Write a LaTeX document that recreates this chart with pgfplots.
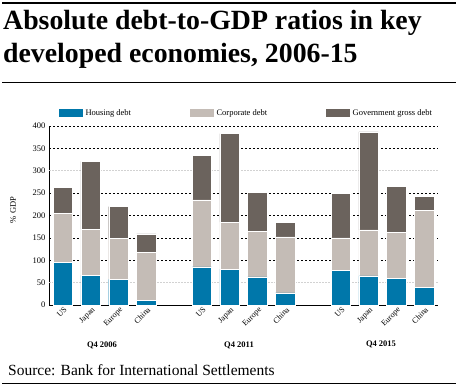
\documentclass[border=0pt]{standalone}
\usepackage{fontspec}
\setmainfont{Liberation Serif}
\usepackage{pgfplots}
\pgfplotsset{compat=1.18}
\definecolor{housing}{HTML}{0077AA}
\definecolor{corp}{HTML}{C4BCB6}
\definecolor{gov}{HTML}{6B635D}
\begin{document}
\begin{tikzpicture}[x=1pt,y=1pt]
\useasboundingbox (0,0) rectangle (458,386);
\draw[line width=1.5pt] (2,383) -- (456,383);
\node[anchor=base west, font=\fontsize{27.8}{30}\selectfont\bfseries, inner sep=0] at (3,356) {Absolute debt-to-GDP ratios in key};
\node[anchor=base west, font=\fontsize{27.8}{30}\selectfont\bfseries, inner sep=0] at (3,323) {developed economies, 2006-15};
\draw[line width=0.6pt] (2,304) -- (456,304);
\begin{axis}[
  at={(49pt,81pt)}, anchor=south west,
  width=389pt, height=179pt, scale only axis,
  xmin=-0.5, xmax=13.5, ymin=0, ymax=400,
  ybar stacked, bar width=19.5pt,
  axis lines*=left,
  axis line style={black, line width=0.8pt},
  major tick length=0pt,
  ytick={0,100,150,200,250,350,400},
  extra y ticks={50,300},
  extra y tick style={major grid style={gray!35, dash pattern=on 1.5pt off 1.5pt, line width=0.8pt}},
  ymajorgrids=true,
  major grid style={black, dash pattern=on 2pt off 2pt, line width=0.6pt},
  xtick={0,1,2,3,5,6,7,8,10,11,12,13},
  xticklabels={US,Japan,Europe,China,US,Japan,Europe,China,US,Japan,Europe,China},
  xticklabel style={rotate=45, anchor=north east, font=\fontsize{8}{9}\selectfont, inner sep=0.5pt, yshift=-1pt},
  yticklabel style={font=\fontsize{8.5}{9}\selectfont},
  /pgf/number format/assume math mode=true,
  legend columns=3,
  legend style={draw=none, fill=none, at={(axis description cs:0.023,1.073)}, anchor=west, inner sep=0pt,
    font=\fontsize{8.5}{9}\selectfont,
    /tikz/every even column/.append style={column sep=56pt}},
  legend image code/.code={\fill[#1] (0pt,-4.5pt) rectangle (25pt,4.5pt);},
]
\addplot+[fill=housing, draw=white, line width=0.4pt] coordinates {(0,95)(1,66)(2,57)(3,10)(5,85)(6,80)(7,63)(8,27)(10,78)(11,65)(12,59)(13,39)};
\addplot+[fill=corp, draw=white, line width=0.4pt] coordinates {(0,110)(1,103)(2,92)(3,108)(5,150)(6,105)(7,102)(8,125)(10,72)(11,103)(12,103)(13,172)};
\addplot+[fill=gov, draw=white, line width=0.4pt] coordinates {(0,58)(1,152)(2,71)(3,41)(5,99)(6,198)(7,87)(8,33)(10,100)(11,219)(12,103)(13,32)};
\legend{Housing debt, Corporate debt, Government gross debt}
\end{axis}
\node[rotate=90, font=\fontsize{8.5}{9}\selectfont] at (13,176) {\% GDP};
\node[font=\fontsize{8.5}{9}\selectfont\bfseries] at (102,41) {Q4 2006};
\node[font=\fontsize{8.5}{9}\selectfont\bfseries] at (239,41) {Q4 2011};
\node[font=\fontsize{8.5}{9}\selectfont\bfseries] at (381,42) {Q4 2015};
\node[anchor=base west, font=\fontsize{15.5}{17}\selectfont, inner sep=0] at (8,11) {Source: Bank for International Settlements};
\draw[line width=0.6pt] (2,3) -- (456,3);
\end{tikzpicture}
\end{document}
